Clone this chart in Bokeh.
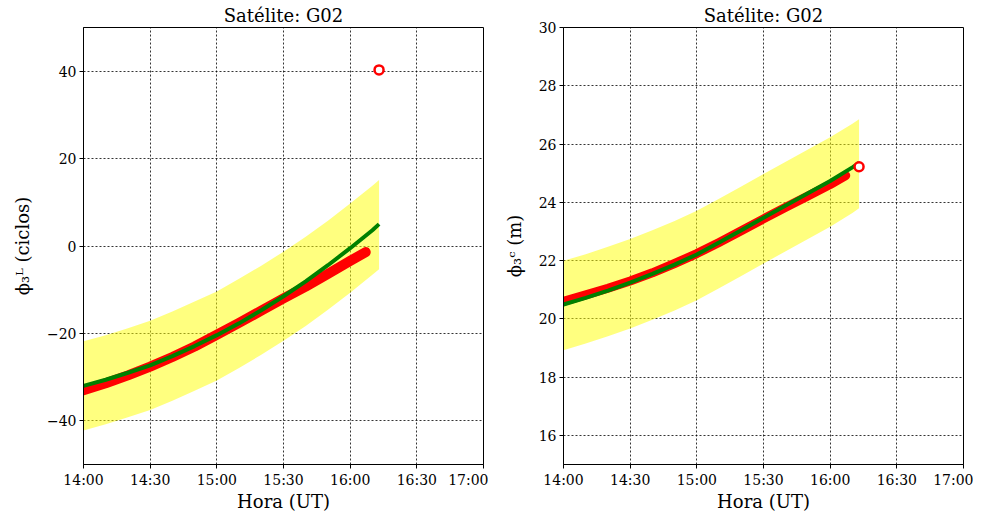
from bokeh.plotting import figure
from bokeh.layouts import row
from bokeh.models import FixedTicker, Range1d
from bokeh.embed import file_html
from bokeh.resources import INLINE

# ---------------- data ----------------
title_text = "Satélite: G02"
x_label = "Hora (UT)"
y_label_left = "ϕ₃ᴸ (ciclos)"
y_label_right = "ϕ₃ᶜ (m)"

x_tick_labels = ["14:00", "14:30", "15:00", "15:30", "16:00", "16:30", "17:00"]
y_ticks_left = [-40, -20, 0, 20, 40]
y_ticks_right = [16, 18, 20, 22, 24, 26, 28, 30]

# model (green) / band times
model_times = ["14:00", "14:10", "14:20", "14:30", "14:40", "14:50", "15:00", "15:10",
               "15:20", "15:30", "15:40", "15:50", "16:00", "16:10", "16:13"]
# observation (red) times
obs_times = ["14:00", "14:10", "14:20", "14:30", "14:40", "14:50", "15:00", "15:10",
             "15:20", "15:30", "15:40", "15:50", "16:00", "16:07"]
outlier_time = ["16:13"]

# left panel: phi3 L (cycles)
left_model = [-32.0, -30.6, -29.0, -27.3, -25.2, -22.9, -20.4, -17.7,
              -14.7, -11.5, -8.1, -4.4, -0.5, 3.6, 5.0]
left_upper = [-21.8, -20.4, -18.8, -17.1, -15.0, -12.7, -10.4, -7.5,
              -4.5, -1.3, 2.1, 5.8, 9.7, 13.8, 15.1]
left_lower = [-42.2, -40.8, -39.2, -37.5, -35.4, -33.1, -30.8, -27.9,
              -24.9, -21.7, -18.3, -14.6, -10.7, -6.6, -5.3]
left_obs = [-33.0, -31.4, -29.6, -27.6, -25.4, -23.0, -20.3, -17.6,
            -14.8, -12.0, -9.3, -6.4, -3.4, -1.4]
left_outlier = [40.3]

# right panel: phi3 C (m)
right_model = [20.49, 20.72, 20.97, 21.24, 21.54, 21.86, 22.21, 22.62,
               23.04, 23.47, 23.89, 24.31, 24.73, 25.20, 25.35]
right_upper = [21.99, 22.22, 22.47, 22.74, 23.04, 23.36, 23.71, 24.12,
               24.54, 24.97, 25.39, 25.81, 26.23, 26.70, 26.85]
right_lower = [18.92, 19.15, 19.40, 19.67, 19.97, 20.29, 20.64, 21.05,
               21.47, 21.90, 22.32, 22.74, 23.16, 23.63, 23.80]
right_obs = [20.60, 20.82, 21.05, 21.30, 21.58, 21.90, 22.24, 22.62,
             23.02, 23.43, 23.83, 24.22, 24.61, 24.92]
right_outlier = [25.22]


def to_hours(labels):
    out = []
    for s in labels:
        h, m = s.split(":")
        out.append(int(h) + int(m) / 60.0)
    return out


FONT = "DejaVu Serif"


def make_panel(y_start, y_end, y_ticks, y_label, model, upper, lower, obs, outlier,
               obs_width, min_left, min_right):
    xt = to_hours(model_times)
    xo = to_hours(obs_times)
    xout = to_hours(outlier_time)
    xticks = to_hours(x_tick_labels)

    p = figure(frame_width=400, frame_height=437, output_backend="svg",
               toolbar_location=None, x_range=Range1d(xticks[0], xticks[-1]),
               y_range=Range1d(y_start, y_end), min_border_left=min_left,
               min_border_right=min_right, min_border_top=10, min_border_bottom=10)
    p.title.text = title_text
    p.title.align = "center"
    p.title.text_font = FONT
    p.title.text_font_size = "18px"
    p.title.text_font_style = "normal"
    p.title.text_color = "black"
    p.title.standoff = 4

    p.varea(x=xt, y1=lower, y2=upper, fill_color="yellow", fill_alpha=0.5)
    p.line(x=xo, y=obs, line_color="red", line_width=obs_width, line_cap="round",
           line_join="round")
    p.line(x=xt, y=model, line_color="green", line_width=4)
    p.scatter(x=xout, y=outlier, marker="circle", size=9, fill_color="white",
              line_color="red", line_width=2.5)

    p.xaxis.ticker = FixedTicker(ticks=xticks)
    p.xaxis.major_label_overrides = {t: l for t, l in zip(xticks, x_tick_labels)}
    p.yaxis.ticker = FixedTicker(ticks=y_ticks)
    p.xaxis.axis_label = x_label
    p.yaxis.axis_label = y_label

    for ax in (p.xaxis[0], p.yaxis[0]):
        ax.axis_label_text_font = FONT
        ax.axis_label_text_font_size = "18px"
        ax.axis_label_text_font_style = "normal"
        ax.axis_label_text_color = "black"
        ax.major_label_text_font = FONT
        ax.major_label_text_font_size = "14px"
        ax.major_label_text_color = "black"
        ax.minor_tick_line_color = None
        ax.major_tick_in = 0
        ax.major_tick_out = 4
        ax.major_tick_line_color = "black"
        ax.axis_line_color = "black"
        ax.major_label_standoff = 3
    p.xaxis[0].axis_label_standoff = 0
    p.yaxis[0].axis_label_standoff = 11

    for g in (p.xgrid[0], p.ygrid[0]):
        g.grid_line_color = "black"
        g.grid_line_dash = "2 2"
        g.grid_line_width = 0.8
        g.grid_line_alpha = 1.0

    p.outline_line_color = "black"
    p.outline_line_width = 1
    p.outline_line_alpha = 1
    p.background_fill_color = "white"
    p.border_fill_color = "white"
    return p


p1 = make_panel(-50, 50, y_ticks_left, y_label_left, left_model, left_upper, left_lower,
                left_obs, left_outlier, 10, 83, 5)
p2 = make_panel(15, 30, y_ticks_right, y_label_right, right_model, right_upper, right_lower,
                right_obs, right_outlier, 9, 75, 10)

layout = row(p1, p2)
open("out.html", "w").write(file_html(layout, INLINE))
